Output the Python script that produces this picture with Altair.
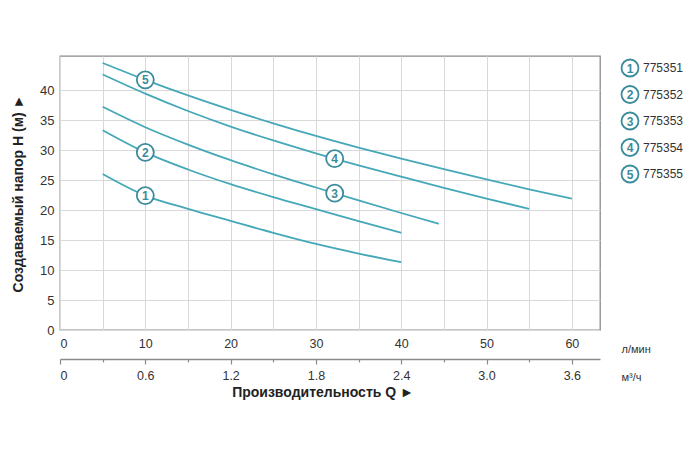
import altair as alt
import pandas as pd

# ---- data ----
curve_ids = ["1", "2", "3", "4", "5"]
models = ["775351", "775352", "775353", "775354", "775355"]

q1 = [5, 10, 15, 20, 25, 30, 35, 40]
h1 = [26.0, 22.4, 20.2, 18.2, 16.2, 14.35, 12.75, 11.3]
q2 = [5, 10, 15, 20, 25, 30, 35, 40]
h2 = [33.3, 29.6, 26.75, 24.3, 22.15, 20.15, 18.15, 16.2]
q3 = [5, 10, 15, 20, 25, 30, 35, 40, 44.4]
h3 = [37.2, 33.8, 30.9, 28.3, 25.95, 23.75, 21.6, 19.5, 17.7]
q4 = [5, 10, 15, 20, 25, 30, 35, 40, 45, 50, 55]
h4 = [42.6, 39.4, 36.5, 33.9, 31.6, 29.45, 27.45, 25.55, 23.7, 21.9, 20.2]
q5 = [5, 10, 15, 20, 25, 30, 35, 40, 45, 50, 55, 60]
h5 = [44.5, 41.7, 39.1, 36.7, 34.45, 32.35, 30.4, 28.55, 26.8, 25.1, 23.45, 21.9]

label_q = [10, 10, 32.2, 32.2, 10]
label_h = [22.4, 29.6, 22.8, 28.55, 41.7]

x_ticks = [0, 5, 10, 15, 20, 25, 30, 35, 40, 45, 50, 55, 60]
y_ticks = [0, 5, 10, 15, 20, 25, 30, 35, 40]
m3_ticks = [0, 0.3, 0.6, 0.9, 1.2, 1.5, 1.8, 2.1, 2.4, 2.7, 3.0, 3.3, 3.6]

X_MAX = 63.3
Y_MAX = 45.67

LINE = "#45A8B8"
MARK = "#3A8C9C"
FONT = "Liberation Sans"
TXT = "#333333"

rows = []
for cid, qs, hs in zip(curve_ids, [q1, q2, q3, q4, q5], [h1, h2, h3, h4, h5]):
    for q, h in zip(qs, hs):
        rows.append({"curve": cid, "q": q, "h": h})
df = pd.DataFrame(rows)
lab_df = pd.DataFrame({"curve": curve_ids, "q": label_q, "h": label_h})
leg_df = pd.DataFrame({"curve": curve_ids, "model": models})

# ---- main plot ----
xenc = alt.X(
    "q:Q",
    scale=alt.Scale(domain=[0, X_MAX], nice=False, zero=True),
    axis=alt.Axis(
        values=x_ticks, tickCount=len(x_ticks), grid=True,
        gridColor="#d9d9d9", gridWidth=1,
        domain=False, ticks=False, tickSize=0, labelPadding=7,
        labelOverlap=False,
        labelExpr="datum.value % 10 == 0 ? datum.label : ''",
        labelFontSize=12.5, labelColor=TXT, labelFont=FONT,
        title="л/мин", titleX=561, titleY=19, titleAlign="left",
        titleBaseline="middle", titleFontWeight="normal", titleFontSize=11,
        titleFont=FONT, titleColor=TXT,
    ),
)
yenc = alt.Y(
    "h:Q",
    scale=alt.Scale(domain=[0, Y_MAX], nice=False, zero=True),
    axis=alt.Axis(
        values=y_ticks, tickCount=len(y_ticks), grid=True,
        gridColor="#d9d9d9", gridWidth=1,
        domain=False, ticks=False, tickSize=0, labelPadding=6,
        labelOverlap=False,
        labelFontSize=13, labelColor=TXT, labelFont=FONT,
        title="Создаваемый напор H (м) ►", titleX=-42, titleY=137,
        titleAngle=270, titleAlign="center", titleBaseline="middle",
        titleFontWeight="bold", titleFontSize=14, titleFont=FONT,
        titleColor="#222222",
    ),
)

lines = alt.Chart(df).mark_line(
    interpolate="monotone", strokeWidth=1.8, color=LINE
).encode(x=xenc, y=yenc, detail="curve:N")

circles = alt.Chart(lab_df).mark_point(
    shape="circle", size=289, filled=True, fill="white", stroke=MARK,
    strokeWidth=1.8, opacity=1,
).encode(x="q:Q", y="h:Q")

nums = alt.Chart(lab_df).mark_text(
    font=FONT, fontSize=12, fontWeight="bold", color=MARK, baseline="middle",
    align="center", dy=0.5,
).encode(x="q:Q", y="h:Q", text="curve:N")

inner = alt.layer(lines, circles, nums)

# ---- second x axis (m3/h) ----
major_test = "abs(datum.value*10/6 - round(datum.value*10/6)) < 0.01"
axis2 = alt.Chart(pd.DataFrame({"m3": m3_ticks})).mark_point(opacity=0).encode(
    x=alt.X(
        "m3:Q",
        scale=alt.Scale(domain=[0, X_MAX * 0.06], nice=False, zero=True),
        axis=alt.Axis(
            orient="bottom", offset=29, values=m3_ticks,
            tickCount=len(m3_ticks), grid=False,
            domain=True, domainColor="#8a8a8a", domainWidth=1.6,
            ticks=True, tickColor="#8a8a8a", tickWidth=1.2,
            tickSize={"condition": {"test": major_test, "value": 5}, "value": 3},
            labelPadding=5, labelOverlap=False,
            labelExpr="datum.value == 0 ? '0' : (" + major_test + " ? format(datum.value, '.1f') : '')",
            labelFontSize=12.5, labelColor=TXT, labelFont=FONT,
            title="м³/ч", titleX=561, titleY=18, titleAlign="left",
            titleBaseline="middle", titleFontWeight="normal", titleFontSize=11,
            titleFont=FONT, titleColor=TXT,
        ),
    )
)

xtitle = alt.Chart(pd.DataFrame({"t": ["Производительность Q ►"]})).mark_text(
    font=FONT, fontSize=14, fontWeight="bold", color="#222222",
    align="center", baseline="middle",
).encode(x=alt.value(263), y=alt.value(337), text="t:N")

# ---- legend ----
leg_y = alt.Y(
    "model:N",
    scale=alt.Scale(type="point", domain=models, range=[12, 118], padding=0),
    axis=None,
)
leg_circ = alt.Chart(leg_df).mark_point(
    shape="circle", size=289, filled=True, fill="white", stroke=MARK,
    strokeWidth=1.8, opacity=1,
).encode(x=alt.value(570), y=leg_y)
leg_num = alt.Chart(leg_df).mark_text(
    font=FONT, fontSize=12, fontWeight="bold", color=MARK, baseline="middle",
    align="center", dy=0.5,
).encode(x=alt.value(570), y=leg_y, text="curve:N")
leg_txt = alt.Chart(leg_df).mark_text(
    font=FONT, fontSize=12, color=TXT, baseline="middle", align="left",
).encode(x=alt.value(583), y=leg_y, text="model:N")
legend = alt.layer(leg_circ, leg_num, leg_txt)

chart = alt.layer(inner, axis2, xtitle, legend).resolve_scale(
    x="independent", y="independent"
).properties(
    width=540, height=274,
    padding={"left": 60, "top": 56, "right": 100, "bottom": 125},
    autosize=alt.AutoSizeParams(type="none"),
    background="white",
).configure_view(stroke="#8a8a8a", strokeWidth=1.3)

chart.save("out.html", embed_options={"renderer": "svg", "actions": False})
